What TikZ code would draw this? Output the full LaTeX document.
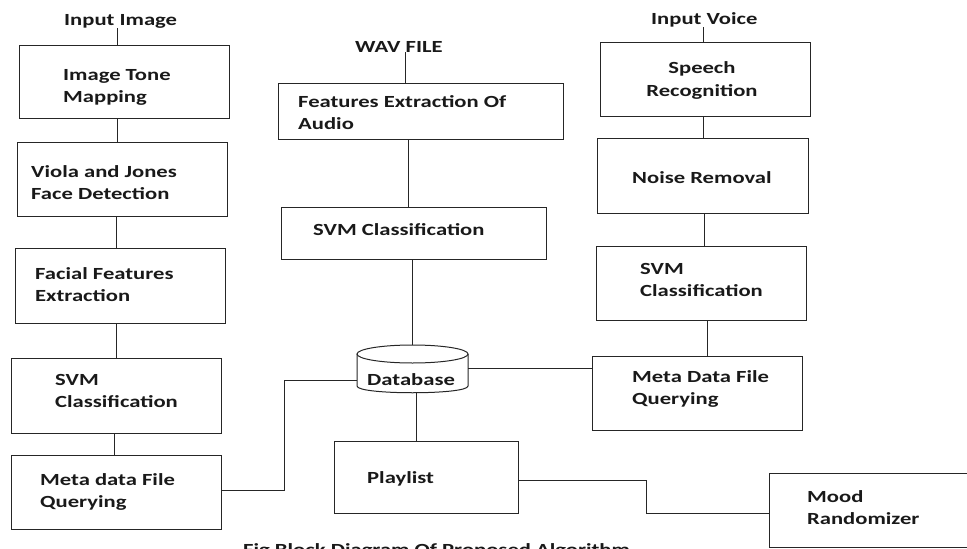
\documentclass[tikz,border=0pt]{standalone}
\usepackage{fontspec}
\setmainfont{Carlito}[FakeStretch=1.33]
\begin{document}
\begin{tikzpicture}[x=1pt,y=-1pt,
  box/.style={draw=black!85, line width=1pt, rectangle, inner sep=0pt},
  lbl/.style={inner sep=0pt, anchor=base west, align=left, text=black!90,
    font=\fontsize{17}{22.5}\selectfont\bfseries},
  conn/.style={draw=black!85, line width=1pt}]
\useasboundingbox (0,0) rectangle (967,549);
\clip (0,0) rectangle (967,549);
% boxes
\node[box, minimum width=210pt, minimum height=73pt] (tone) at (124,81.5) {};
\node[box, minimum width=210pt, minimum height=74pt] (viola) at (122,179) {};
\node[box, minimum width=210pt, minimum height=75pt] (facial) at (120,285.5) {};
\node[box, minimum width=210pt, minimum height=75pt] (svmL) at (116,395.5) {};
\node[box, minimum width=210pt, minimum height=74pt] (metaL) at (116,492) {};
\node[box, minimum width=285pt, minimum height=56pt] (feat) at (420.5,111) {};
\node[box, minimum width=265pt, minimum height=52pt] (svmC) at (413.5,233) {};
\node[inner sep=0pt, minimum width=111pt, minimum height=48pt] (db) at (412.5,369) {};
\node[box, minimum width=184pt, minimum height=72pt] (play) at (426,477) {};
\node[box, minimum width=210pt, minimum height=74pt] (speech) at (705,79) {};
\node[box, minimum width=211pt, minimum height=75pt] (noise) at (702.5,175.5) {};
\node[box, minimum width=210pt, minimum height=74pt] (svmR) at (701,283) {};
\node[box, minimum width=210pt, minimum height=74pt] (metaR) at (697,393) {};
\node[box, minimum width=221pt, minimum height=74pt] (mood) at (879.5,510) {};
% database cylinder
\draw[conn] (db.center) ++(0,-15) ellipse [x radius=55.5pt, y radius=9pt];
\draw[conn] (357,354) -- (357,386) .. controls (357,395) and (468,395) .. (468,386) -- (468,354);
% texts (multi-line nodes: base = baseline of the last line)
\node[lbl] (tInImg) at (64,25) {Input Image};
\node[lbl] (tTone) at (63,102.5) {Image Tone\\Mapping};
\node[lbl] (tViola) at (31,199.5) {Viola and Jones\\Face Detection};
\node[lbl] (tFacial) at (35,301.5) {Facial Features\\Extraction};
\node[lbl] (tSvmL) at (55,407.5) {SVM\\Classification};
\node[lbl] (tMetaL) at (40,507.5) {Meta data File\\Querying};
\node[lbl] (tWav) at (355,52) {WAV FILE};
\node[lbl] (tFeat) at (298,129.5) {Features Extraction Of\\Audio};
\node[lbl] (tSvmC) at (313,235) {SVM Classification};
\node[lbl] (tDb) at (367,385) {Database};
\node[lbl] (tPlay) at (367,483) {Playlist};
\node[lbl] (tInV) at (651,24) {Input Voice};
\node[lbl, anchor=base, align=center] (tSpeech) at (702,96) {Speech\\Recognition};
\node[lbl] (tNoise) at (632,183) {Noise Removal};
\node[lbl] (tSvmR) at (640,296.5) {SVM\\Classification};
\node[lbl] (tMetaR) at (632,404.5) {Meta Data File\\Querying};
\node[lbl] (tMood) at (807,524.5) {Mood\\Randomizer};
\node[lbl] (tCap) at (243,555) {Fig Block Diagram Of Proposed Algorithm};
% connectors left column
\draw[conn] ([xshift=-7pt]tone.north) -- ([xshift=-7pt]tone.north |- tInImg.south);
\draw[conn] ([xshift=-7pt]tone.south) -- ([xshift=-7pt]tone.south |- viola.north);
\draw[conn] ([xshift=-6pt]viola.south) -- ([xshift=-6pt]viola.south |- facial.north);
\draw[conn] ([xshift=-4pt]facial.south) -- ([xshift=-4pt]facial.south |- svmL.north);
\draw[conn] ([xshift=-2pt]svmL.south) -- ([xshift=-2pt]svmL.south |- metaL.north);
\draw[conn] ([yshift=2pt]metaL.east) -- ++(63,0) |- ([yshift=-11pt]db.west);
% middle column
\draw[conn] ([xshift=-15.5pt]feat.north) -- ([xshift=-15.5pt]feat.north |- tWav.south);
\draw[conn] ([xshift=-12.5pt]feat.south) -- ([xshift=-12.5pt]feat.south |- svmC.north);
\draw[conn] ([xshift=-1.5pt]svmC.south) -- ([xshift=-1.5pt]svmC.south |- db.north);
\draw[conn] ([xshift=3.5pt]db.south) -- ([xshift=3.5pt]db.south |- play.north);
\draw[conn] ([yshift=1pt]db.east) -- ([yshift=1pt]db.east -| metaR.west);
\draw[conn] ([yshift=-3pt]play.east) -- ++(128,0) |- ([yshift=-3pt]mood.west);
% right column
\draw[conn] ([xshift=-2pt]speech.north) -- ([xshift=-2pt]speech.north |- tInV.south);
\draw[conn] ([xshift=-2pt]speech.south) -- ([xshift=-2pt]speech.south |- noise.north);
\draw[conn] ([xshift=1.5pt]noise.south) -- ([xshift=1.5pt]noise.south |- svmR.north);
\draw[conn] ([xshift=6pt]svmR.south) -- ([xshift=6pt]svmR.south |- metaR.north);
\end{tikzpicture}
\end{document}
